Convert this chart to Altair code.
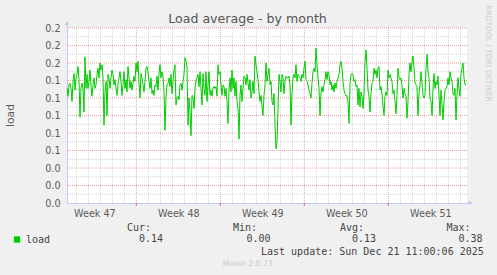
import altair as alt
import pandas as pd
from datetime import datetime, timedelta

# ---------------- data ----------------
TITLE = "Load average - by month"
Y_TITLE = "load"
SERIES_NAME = "load"
SIDE_TEXT = "RRDTOOL / TOBI OETIKER"
FOOTER_VERSION = "Munin 2.0.73"
LAST_UPDATE = "Last update: Sun Dec 21 11:00:06 2025"

stat_names = ["Cur:", "Min:", "Avg:", "Max:"]
stat_values = ["0.14", "0.00", "0.13", "0.38"]

# one sample every 2 hours, starting at START
START = datetime(2025, 11, 18, 5, 20)
STEP_HOURS = 2
SPAN_HOURS = 800

load_values = [
    .131, .122, .135, .137, .131, .116, .139, .148, .129,
    .143, .147, .156, .141, .098, .131, .137, .131, .104, .167,
    .131, .147, .131, .139, .152, .133, .122, .135, .143, .131,
    .135, .147, .154, .143, .160, .152, .158, .143, .089, .127,
    .139, .100, .147, .143, .131, .143, .152, .147, .135, .141,
    .131, .123, .137, .143, .150, .139, .123, .135, .150, .131,
    .141, .127, .156, .143, .131, .139, .129, .137, .145, .139,
    .160, .150, .162, .137, .120, .148, .143, .135, .127, .139,
    .154, .156, .150, .139, .131, .143, .125, .129, .123, .135,
    .133, .145, .129, .148, .158, .143, .150, .145, .127, .083,
    # ---
    .122, .135, .137, .143, .133, .147, .125, .139, .152, .158,
    .112, .120, .122, .118, .135, .137, .129, .139, .147, .166,
    .162, .156, .089, .120, .104, .077, .123, .122, .108, .131,
    .141, .143, .147, .133, .150, .131, .112, .148, .131, .123,
    .150, .116, .135, .150, .123, .129, .122, .131, .133, .131,
    .133, .122, .158, .147, .150, .135, .123, .135, .133, .122,
    .131, .116, .091, .129, .143, .127, .152, .131, .143, .122,
    .139, .116, .108, .073, .123, .135, .116, .131, .145, .143,
    .135, .147, .137, .129, .141, .120, .127, .139, .125, .168,
    .158, .150, .141, .127, .116, .123, .110, .100, .123, .135,
    # ---
    .160, .139, .147, .154, .135, .139, .116, .112, .125, .089,
    .062, .070, .108, .147, .139, .127, .147, .143, .125, .139,
    .145, .143, .143, .145, .135, .089, .127, .143, .147, .143,
    .158, .139, .147, .145, .143, .139, .147, .143, .154, .162,
    .141, .139, .135, .129, .125, .120, .137, .150, .154, .150,
    .177, .158, .143, .131, .100, .125, .133, .127, .135, .141,
    .150, .141, .150, .147, .135, .139, .129, .135, .127, .137,
    .131, .139, .143, .147, .158, .162, .154, .139, .129, .125,
    .122, .123, .116, .091, .135, .147, .148, .147, .139, .141,
    .133, .135, .112, .131, .110, .127, .122, .108, .125, .162,
    # ---
    .175, .154, .129, .122, .104, .125, .137, .139, .154, .147,
    .152, .143, .154, .156, .129, .133, .125, .112, .100, .122,
    .127, .123, .152, .143, .147, .143, .139, .125, .129, .116,
    .102, .123, .154, .143, .141, .143, .135, .120, .131, .125,
    .122, .097, .116, .147, .160, .150, .162, .168, .154, .137,
    .135, .133, .100, .125, .135, .150, .137, .123, .120, .123,
    .154, .170, .150, .143, .120, .116, .100, .131, .148, .131,
    .139, .135, .145, .123, .100, .129, .114, .095, .116, .129,
    .131, .133, .143, .135, .150, .143, .139, .125, .123, .131,
    .095, .123, .143, .131, .122, .148, .154, .160, .143, .135,
    .135,
]

y_tick_values = [0.00, 0.02, 0.04, 0.06, 0.08, 0.10, 0.12, 0.14, 0.16, 0.18, 0.20]
y_tick_labels = ["0.0", "0.0", "0.0", "0.1", "0.1", "0.1", "0.1", "0.1", "0.2", "0.2", "0.2"]
y_minor_values = [0.01, 0.03, 0.05, 0.07, 0.09, 0.11, 0.13, 0.15, 0.17, 0.19]

week_labels = ["Week 47", "Week 48", "Week 49", "Week 50", "Week 51"]
week_mids = [datetime(2025, 11, 20, 12), datetime(2025, 11, 27, 12), datetime(2025, 12, 4, 12),
             datetime(2025, 12, 11, 12), datetime(2025, 12, 18, 12)]
mondays = [datetime(2025, 11, 24), datetime(2025, 12, 1), datetime(2025, 12, 8), datetime(2025, 12, 15)]
first_day = datetime(2025, 11, 19)
last_day = datetime(2025, 12, 21)

# ---------------- helpers ----------------
def hours(d):
    return (d - START).total_seconds() / 3600.0

line_df = pd.DataFrame({
    "h": [i * STEP_HOURS for i in range(len(load_values))],
    "load": load_values,
})

days = []
d = first_day
while d <= last_day:
    if d not in mondays:
        days.append(hours(d))
    d += timedelta(days=1)

minor_v = pd.DataFrame({"h": days})
major_v = pd.DataFrame({"h": [hours(m) for m in mondays]})
minor_h = pd.DataFrame({"load": y_minor_values})
major_h = pd.DataFrame({"load": [v for v in y_tick_values if v > 0]})

week_mid_hours = [hours(w) for w in week_mids]

W, H = 400, 175
xs = alt.Scale(domain=[0, SPAN_HOURS], nice=False, zero=False)
ys = alt.Scale(domain=[0, 0.2], nice=False, zero=True)

AXIS_COLOR = "#c3c8ee"
MINOR_COLOR = "#d2d2d2"
MAJOR_COLOR = "#eaa0a0"
GREEN = "#00cc00"
LABEL_COLOR = "#5a5a5a"
TEXT_COLOR = "#444444"
SANS = "DejaVu Sans"
MONO = "DejaVu Sans Mono"

y_expr = "[" + ",".join("'%s'" % s for s in y_tick_labels) + "][round(datum.value / 0.02)]"
x_expr = ("[" + ",".join("'%s'" % s for s in week_labels) + "][round((datum.value - %f) / 168)]"
          % week_mid_hours[0])

X_AXIS = alt.Axis(
    values=week_mid_hours, labelExpr=x_expr, ticks=False, grid=False,
    domainColor=AXIS_COLOR, domainWidth=1, labelFont=SANS, labelFontSize=9.6,
    labelColor=LABEL_COLOR, labelPadding=5, title=None, labelFlush=False)
Y_AXIS = alt.Axis(
    values=y_tick_values, labelExpr=y_expr, ticks=False, grid=False,
    domainColor=AXIS_COLOR, domainWidth=1, labelFont=SANS, labelFontSize=9.6,
    labelColor=LABEL_COLOR, labelPadding=7, labelFlush=False,
    title=Y_TITLE, titleFont=SANS, titleFontSize=10.7, titleColor=LABEL_COLOR,
    titleFontWeight="normal", titleAngle=-90, titleX=-57, titleY=87,
    titleAlign="center", titleBaseline="middle")

def XE(field="h"):
    return alt.X(field + ":Q", scale=xs, axis=X_AXIS)

def YE(field="load"):
    return alt.Y(field + ":Q", scale=ys, axis=Y_AXIS)

minor_v_l = alt.Chart(minor_v).mark_rule(color=MINOR_COLOR, strokeDash=[1, 1], strokeWidth=1).encode(x=XE())
minor_h_l = alt.Chart(minor_h).mark_rule(color=MINOR_COLOR, strokeDash=[1, 1], strokeWidth=1).encode(y=YE())
major_v_l = alt.Chart(major_v).mark_rule(color=MAJOR_COLOR, strokeDash=[1, 1], strokeWidth=1).encode(x=XE())
major_h_l = alt.Chart(major_h).mark_rule(color=MAJOR_COLOR, strokeDash=[1, 1], strokeWidth=1).encode(y=YE())
tick_l = alt.Chart(major_v).mark_rule(color="#e07070", strokeWidth=1).encode(
    x=XE(), y=alt.value(H), y2=alt.value(H + 3))

line_l = alt.Chart(line_df).mark_line(color=GREEN, strokeWidth=1).encode(x=XE(), y=YE())

one = pd.DataFrame({"k": [0]})

def text_layer(txt, x, y, font=MONO, size=10, color=TEXT_COLOR, align="left", angle=0):
    return alt.Chart(pd.DataFrame({"t": [txt]})).mark_text(
        align=align, baseline="middle", font=font, fontSize=size, color=color, angle=angle
    ).encode(x=alt.value(x), y=alt.value(y), text="t:N")

arrow_y = alt.Chart(one).mark_point(shape="triangle-up", filled=True, size=22, color=AXIS_COLOR,
                                    opacity=1).encode(x=alt.value(0), y=alt.value(-5))
arrow_x = alt.Chart(one).mark_point(shape="triangle-right", filled=True, size=22, color=AXIS_COLOR,
                                    opacity=1).encode(x=alt.value(404), y=alt.value(H))
ext_y = alt.Chart(one).mark_rule(color=AXIS_COLOR).encode(x=alt.value(0), y=alt.value(-4), y2=alt.value(0))
ext_x = alt.Chart(one).mark_rule(color=AXIS_COLOR).encode(x=alt.value(W), x2=alt.value(403), y=alt.value(H))

legend_sq = alt.Chart(one).mark_square(size=40, color=GREEN, filled=True, opacity=1).encode(
    x=alt.value(-50), y=alt.value(211.5))

texts = [
    text_layer(TITLE, 180.5, -9, font=SANS, size=12.6, color="#555555", align="center"),
    text_layer(SIDE_TEXT, 421, 25.5, font=SANS, size=7.5, color="#cccccc", align="center", angle=90),
    text_layer(SERIES_NAME, -41, 211.5),
    text_layer(LAST_UPDATE, 194, 223.7),
    text_layer(FOOTER_VERSION, 180.7, 236, font=SANS, size=7.6, color="#c8c8c8", align="center"),
]
name_x = [60, 166, 273, 379.5]
val_x = [72, 179.5, 285, 391.5]
for n, v, nx, vx in zip(stat_names, stat_values, name_x, val_x):
    texts.append(text_layer(n, nx, 199.7))
    texts.append(text_layer(v, vx, 211.3))

chart = alt.layer(
    minor_v_l, minor_h_l, major_v_l, major_h_l, tick_l, line_l,
    ext_y, ext_x, arrow_y, arrow_x, legend_sq, *texts
).properties(
    width=W, height=H,
    autosize=alt.AutoSizeParams(type="none"),
    padding={"left": 67, "top": 28, "right": 30, "bottom": 72},
    background="#f0f0f0",
).configure_view(fill="white", stroke=None)

chart.save("out.html", embed_options={"renderer": "svg", "actions": False})
